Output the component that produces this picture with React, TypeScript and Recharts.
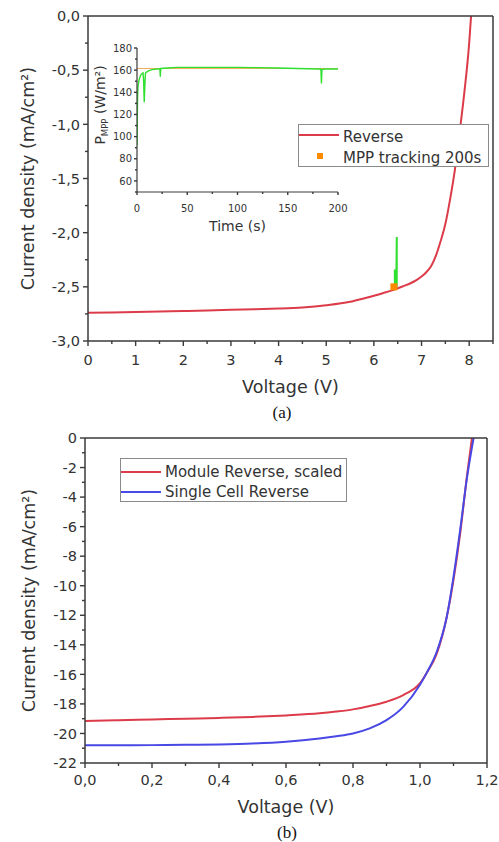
import React from "react";
import {
  ComposedChart,
  LineChart,
  Line,
  Scatter,
  XAxis,
  YAxis,
  Legend,
  Label,
} from "recharts";

const FONT = '"DejaVu Sans", Verdana, sans-serif';
const INK = "#333";
const FRAME = "#3a3a3a";
const RED = "#dc3c4a";
const BLUE = "#4848e4";
const GREEN = "#30e030";
const ORANGE = "#ff8a00";
const PALE_ORANGE = "#f0b060";

// (a) module J-V curve, reverse scan
const voltA = [0, 0.5, 1, 1.5, 2, 2.5, 3, 3.5, 4, 4.5, 5, 5.5, 5.8, 6.0, 6.2, 6.4, 6.6, 6.8, 6.9, 7.0, 7.1, 7.2, 7.3, 7.4, 7.5, 7.6, 7.7, 7.8, 7.9, 8.0, 8.04];
const jReverseA = [-2.74, -2.737, -2.733, -2.728, -2.723, -2.718, -2.712, -2.706, -2.7, -2.69, -2.67, -2.638, -2.605, -2.582, -2.557, -2.53, -2.497, -2.46, -2.435, -2.405, -2.365, -2.31, -2.215, -2.08, -1.92, -1.69, -1.42, -1.07, -0.7, -0.25, 0];

// MPP tracking point and its excursion on the J-V plane
const mppV = [6.42];
const mppJ = [-2.5];
const spikeV = [6.44, 6.44, 6.47, 6.48, 6.48];
const spikeJ = [-2.5, -2.34, -2.5, -2.04, -2.5];

// inset: P_MPP over time
const timeG = [0, 0.3, 0.6, 1, 2, 3, 4, 5, 6, 6.6, 7.2, 7.8, 8.4, 9, 10, 12, 15, 20, 22.8, 23.2, 23.6, 30, 40, 60, 80, 100, 120, 140, 160, 180, 183, 183.5, 184, 187, 200];
const powerG = [92, 118, 136, 145, 151, 154, 156, 157, 157.5, 150, 131, 146, 157, 158, 158.5, 159.5, 160.5, 161, 161, 154, 161.5, 162, 162.5, 162.5, 162.5, 162.5, 162.3, 162, 161.5, 161, 161, 148, 160.5, 161, 161];
const timeO = [0, 200];
const powerO = [161.5, 161.5];

// (b) module (scaled) vs single cell
const voltB = [0, 0.1, 0.2, 0.3, 0.4, 0.5, 0.6, 0.7, 0.75, 0.8, 0.85, 0.9, 0.95, 1.0, 1.02, 1.05, 1.08, 1.1, 1.12, 1.14, 1.155];
const jModule = [-19.16, -19.1, -19.05, -19.0, -18.95, -18.88, -18.78, -18.64, -18.52, -18.37, -18.14, -17.85, -17.4, -16.6, -15.9, -14.6, -12.1, -9.6, -6.45, -2.6, 0];
const voltC = [0, 0.1, 0.2, 0.3, 0.4, 0.5, 0.6, 0.7, 0.75, 0.8, 0.85, 0.9, 0.95, 1.0, 1.02, 1.05, 1.08, 1.1, 1.12, 1.14, 1.16];
const jCell = [-20.8, -20.8, -20.79, -20.77, -20.74, -20.68, -20.56, -20.34, -20.19, -20.0, -19.66, -19.1, -18.2, -16.7, -15.9, -14.47, -12.1, -9.4, -6.2, -2.73, 0];

// tick positions (majors get labels, the rest are minor ticks)
const voltTicksA = [0, 0.5, 1, 1.5, 2, 2.5, 3, 3.5, 4, 4.5, 5, 5.5, 6, 6.5, 7, 7.5, 8, 8.5];
const jTicksA = [-3, -2.75, -2.5, -2.25, -2, -1.75, -1.5, -1.25, -1, -0.75, -0.5, -0.25, 0];
const timeTicks = [0, 25, 50, 75, 100, 125, 150, 175, 200];
const powerTicks = [50, 60, 70, 80, 90, 100, 110, 120, 130, 140, 150, 160, 170, 180];
const voltTicksB = [0, 0.1, 0.2, 0.3, 0.4, 0.5, 0.6, 0.7, 0.8, 0.9, 1.0, 1.1, 1.2];
const jTicksB = [-22, -21, -20, -19, -18, -17, -16, -15, -14, -13, -12, -11, -10, -9, -8, -7, -6, -5, -4, -3, -2, -1, 0];

const rows = (xs: number[], ys: number[]) => xs.map((v, i) => ({ v, j: ys[i] }));

const reverseRows = rows(voltA, jReverseA);
const mppRows = rows(mppV, mppJ);
const spikeRows = rows(spikeV, spikeJ);
const trackRows = rows(timeG, powerG);
const levelRows = rows(timeO, powerO);
const moduleRows = rows(voltB, jModule);
const cellRows = rows(voltC, jCell);

const comma1 = (v: number) => v.toFixed(1).replace(".", ",");
const plain = (v: number) => String(v);

type Side = "left" | "top" | "bottom";

interface TickOpts {
  side: Side;
  step: number;
  fmt?: (v: number) => string;
  size?: number;
  major?: number;
  minor?: number;
  gap?: number;
}

// bottom/left ticks point out of the frame, top ticks point in; majors carry labels
function makeTick({ side, step, fmt, size = 14.5, major = 5, minor = 3, gap = 8 }: TickOpts) {
  return function Tick(props: any) {
    const x = Number(props.x);
    const y = Number(props.y);
    const v = props.payload.value as number;
    const isMajor = Math.abs(v / step - Math.round(v / step)) < 1e-6;
    const len = isMajor ? major : minor;
    const w = 1.4;
    const mark =
      side === "left" ? { x: x - len, y: y - w / 2, width: len, height: w }
      : { x: x - w / 2, y, width: w, height: len };
    const label = isMajor && fmt ? fmt(v) : null;
    return (
      <g>
        <rect {...mark} fill={FRAME} />
        {label && side === "bottom" && (
          <text x={x} y={y + gap} textAnchor="middle" fontSize={size} fontFamily={FONT} fill={INK}>
            {label}
          </text>
        )}
        {label && side === "left" && (
          <text x={x - gap} y={y + size * 0.36} textAnchor="end" fontSize={size} fontFamily={FONT} fill={INK}>
            {label}
          </text>
        )}
      </g>
    );
  };
}

const frameLine = { stroke: FRAME, strokeWidth: 1.5 };
const bare = { tickSize: 0, tickMargin: 0, tickLine: false, interval: 0 as const, allowDataOverflow: true };

function LegendA() {
  return (
    <div style={{ position: "relative", width: 189, height: 41, border: "1px solid #8a8a8a", background: "#fff", fontFamily: FONT, fontSize: 15, color: INK }}>
      <div style={{ position: "absolute", left: 0, top: 9, width: 40, height: 2, background: RED }} />
      <div style={{ position: "absolute", left: 44, top: 2, lineHeight: "20px", whiteSpace: "nowrap" }}>Reverse</div>
      <div style={{ position: "absolute", left: 18, top: 28, width: 6, height: 6, background: ORANGE }} />
      <div style={{ position: "absolute", left: 44, top: 23, lineHeight: "20px", whiteSpace: "nowrap" }}>MPP tracking 200s</div>
    </div>
  );
}

function LegendB() {
  return (
    <div style={{ position: "relative", width: 225, height: 42, border: "1px solid #8a8a8a", background: "#fff", fontFamily: FONT, fontSize: 15, color: INK }}>
      <div style={{ position: "absolute", left: 0, top: 12, width: 40, height: 2, background: RED }} />
      <div style={{ position: "absolute", left: 44, top: 3, lineHeight: "20px", whiteSpace: "nowrap" }}>Module Reverse, scaled</div>
      <div style={{ position: "absolute", left: 0, top: 32, width: 40, height: 2, background: BLUE }} />
      <div style={{ position: "absolute", left: 44, top: 23, lineHeight: "20px", whiteSpace: "nowrap" }}>Single Cell Reverse</div>
    </div>
  );
}

const caption: React.CSSProperties = {
  position: "absolute",
  width: 60,
  textAlign: "center",
  fontFamily: '"Liberation Serif", "Times New Roman", serif',
  fontSize: 17,
  lineHeight: "20px",
  color: "#111",
};

export default function App() {
  return (
    <div style={{ position: "absolute", left: 0, top: 0, width: 499, height: 842, background: "#fff" }}>
      <div style={{ position: "absolute", left: 0, top: 0 }}>
        <ComposedChart width={499} height={400} margin={{ top: 15, right: 5, bottom: 0, left: 0 }}>
          <XAxis dataKey="v" type="number" domain={[0, 8.5]} ticks={voltTicksA} height={59} axisLine={frameLine}
            tick={makeTick({ side: "bottom", step: 1, fmt: plain, gap: 24 })} {...bare}>
            <Label content={(p: any) => (
              <text x={p.viewBox.x + p.viewBox.width / 2} y={p.viewBox.y + 52} textAnchor="middle" fontSize={17.5} fontFamily={FONT} fill={INK}>
                Voltage (V)
              </text>
            )} />
          </XAxis>
          <XAxis xAxisId="top" orientation="top" type="number" domain={[0, 8.5]} ticks={voltTicksA} height={1} axisLine={frameLine}
            tick={makeTick({ side: "top", step: 1 })} {...bare} />
          <YAxis type="number" domain={[-3, 0]} ticks={jTicksA} width={88} axisLine={frameLine}
            tick={makeTick({ side: "left", step: 0.5, fmt: comma1, gap: 8 })} {...bare}>
            <Label content={(p: any) => (
              <text transform={`translate(33.5, ${p.viewBox.y + p.viewBox.height / 2}) rotate(-90)`} textAnchor="middle" fontSize={17.5} fontFamily={FONT} fill={INK}>
                Current density (mA/cm²)
              </text>
            )} />
          </YAxis>
          <YAxis yAxisId="right" orientation="right" type="number" domain={[-3, 0]} ticks={jTicksA} width={1} axisLine={frameLine}
            tick={false} {...bare} />
          <Line data={reverseRows} dataKey="j" type="monotone" stroke={RED} strokeWidth={2} dot={false} activeDot={false} isAnimationActive={false} />
          <Line data={spikeRows} dataKey="j" type="linear" stroke={GREEN} strokeWidth={2} dot={false} activeDot={false} isAnimationActive={false} />
          <Scatter data={mppRows} dataKey="j" isAnimationActive={false}
            shape={(p: any) => <rect x={p.cx - 3.5} y={p.cy - 3.5} width={7} height={7} fill={ORANGE} />} />
          <Legend layout="vertical" align="center" verticalAlign="middle" content={() => <LegendA />}
            wrapperStyle={{ left: 298, top: 124, width: "auto", height: "auto" }} />
        </ComposedChart>
      </div>

      <div style={{ position: "absolute", left: 90, top: 38 }}>
        <LineChart width={260} height={200} margin={{ top: 10, right: 12, bottom: 0, left: 0 }}>
          <XAxis dataKey="v" type="number" domain={[0, 200]} ticks={timeTicks} height={46} axisLine={{ stroke: FRAME, strokeWidth: 1.2 }}
            tick={makeTick({ side: "bottom", step: 50, fmt: plain, gap: 20, size: 10, major: 3, minor: 2 })} {...bare}>
            <Label content={(p: any) => (
              <text x={p.viewBox.x + p.viewBox.width / 2} y={p.viewBox.y + 39} textAnchor="middle" fontSize={14} fontFamily={FONT} fill={INK}>
                Time (s)
              </text>
            )} />
          </XAxis>
          <YAxis type="number" domain={[50, 180]} ticks={powerTicks} width={47} axisLine={{ stroke: FRAME, strokeWidth: 1.2 }}
            tick={makeTick({ side: "left", step: 20, fmt: plain, gap: 5, size: 10, major: 3, minor: 2 })} {...bare}>
            <Label content={() => (
              <text transform="translate(15, 67) rotate(-90)" textAnchor="middle" fontSize={14} fontFamily={FONT} fill={INK}>
                P<tspan fontSize={8.5} dy={3}>MPP</tspan>
                <tspan dy={-3}> (W/m²)</tspan>
              </text>
            )} />
          </YAxis>
          <Line data={levelRows} dataKey="j" type="linear" stroke={PALE_ORANGE} strokeWidth={1.2} dot={false} activeDot={false} isAnimationActive={false} />
          <Line data={trackRows} dataKey="j" type="linear" stroke={GREEN} strokeWidth={1.4} dot={false} activeDot={false} isAnimationActive={false} />
        </LineChart>
      </div>

      <div style={{ ...caption, left: 252, top: 403 }}>(a)</div>

      <div style={{ position: "absolute", left: 0, top: 420 }}>
        <LineChart width={499} height={400} margin={{ top: 17, right: 11, bottom: 0, left: 0 }}>
          <XAxis dataKey="v" type="number" domain={[0, 1.2]} ticks={voltTicksB} height={57} axisLine={frameLine}
            tick={makeTick({ side: "bottom", step: 0.2, fmt: comma1, gap: 22 })} {...bare}>
            <Label content={(p: any) => (
              <text x={p.viewBox.x + p.viewBox.width / 2} y={p.viewBox.y + 50} textAnchor="middle" fontSize={17.5} fontFamily={FONT} fill={INK}>
                Voltage (V)
              </text>
            )} />
          </XAxis>
          <XAxis xAxisId="top" orientation="top" type="number" domain={[0, 1.2]} ticks={voltTicksB} height={1} axisLine={frameLine}
            tick={makeTick({ side: "top", step: 0.2 })} {...bare} />
          <YAxis type="number" domain={[-22, 0]} ticks={jTicksB} width={85} axisLine={frameLine}
            tick={makeTick({ side: "left", step: 2, fmt: plain, gap: 8 })} {...bare}>
            <Label content={(p: any) => (
              <text transform={`translate(34.5, ${p.viewBox.y + p.viewBox.height / 2}) rotate(-90)`} textAnchor="middle" fontSize={17.5} fontFamily={FONT} fill={INK}>
                Current density (mA/cm²)
              </text>
            )} />
          </YAxis>
          <YAxis yAxisId="right" orientation="right" type="number" domain={[-22, 0]} ticks={jTicksB} width={1} axisLine={frameLine}
            tick={false} {...bare} />
          <Line data={moduleRows} dataKey="j" type="monotone" stroke={RED} strokeWidth={2} dot={false} activeDot={false} isAnimationActive={false} />
          <Line data={cellRows} dataKey="j" type="monotone" stroke={BLUE} strokeWidth={2} dot={false} activeDot={false} isAnimationActive={false} />
          <Legend layout="vertical" align="center" verticalAlign="middle" content={() => <LegendB />}
            wrapperStyle={{ left: 120, top: 38, width: "auto", height: "auto" }} />
        </LineChart>
      </div>

      <div style={{ ...caption, left: 257, top: 823 }}>(b)</div>
    </div>
  );
}
